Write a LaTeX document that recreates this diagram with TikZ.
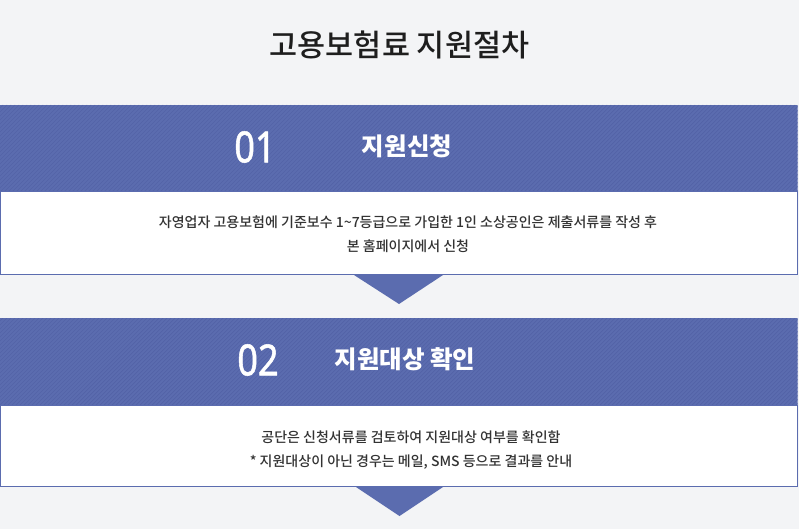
\documentclass[tikz,border=0pt]{standalone}
\usepackage{fontspec}
\setmainfont{Noto Sans CJK KR}
\newfontfamily\numfont[FakeStretch=0.84,FakeBold=1.2]{Noto Sans}
\newfontfamily\medfont{Noto Sans CJK KR Medium}
\definecolor{bg}{HTML}{F3F4F6}
\definecolor{band}{HTML}{5B6CAF}
\definecolor{stripe}{HTML}{5363A7}
\definecolor{txt}{HTML}{333333}
\definecolor{ttl}{HTML}{1E1E1E}
\tikzset{
  num/.style={text=white,font=\numfont\fontsize{43}{43}\selectfont,inner sep=0},
  head/.style={text=white,font=\bfseries\fontsize{24.5}{24.5}\selectfont,inner sep=0},
  body/.style={text=txt,font=\medfont\fontsize{14}{24}\selectfont,align=center,inner sep=0},
  bodybox/.style={draw=band,fill=white,line width=1pt},
}
\newcommand{\stripeband}[2]{%
  \begin{scope}
    \clip (0,#1) rectangle (797.5,#2);
    \fill[band] (0,#1) rectangle (797.5,#2);
    \foreach \x in {-100,-96,...,800}{
      \draw[stripe,line width=0.7pt] (\x,#2) -- ++(#2-#1,#1-#2);
    }
  \end{scope}}
\begin{document}
\begin{tikzpicture}[x=1pt,y=-1pt]
\fill[bg] (0,0) rectangle (799,529);
\useasboundingbox (0,0) rectangle (799,529);
\node[text=ttl,font=\medfont\fontsize{30.5}{30.5}\selectfont,inner sep=0] (title) at (399.5,45) {고용보험료 지원절차};
% step 1
\stripeband{105}{192}
\draw[bodybox] (0.5,192) rectangle (797.5,274.5);
\node[num] (n1) at (255,147) {01};
\node[head] (h1) at (407,146) {지원신청};
\node[body] (b1) at (408,234) {자영업자 고용보험에 기준보수 1\textasciitilde7등급으로 가입한 1인 소상공인은 제출서류를 작성 후\\본 홈페이지에서 신청};
\fill[band] (354,275) -- (443,275) -- (399,304) -- cycle;
% step 2
\stripeband{318}{405}
\draw[bodybox] (0.5,405) rectangle (797.5,486.5);
\node[num] (n2) at (258,360) {02};
\node[head] (h2) at (405,359) {지원대상 확인};
\node[body] (b2) at (411,450) {공단은 신청서류를 검토하여 지원대상 여부를 확인함\\* 지원대상이 아닌 경우는 메일, SMS 등으로 결과를 안내};
\fill[band] (356,487) -- (443,487) -- (399.5,516) -- cycle;
\end{tikzpicture}
\end{document}
